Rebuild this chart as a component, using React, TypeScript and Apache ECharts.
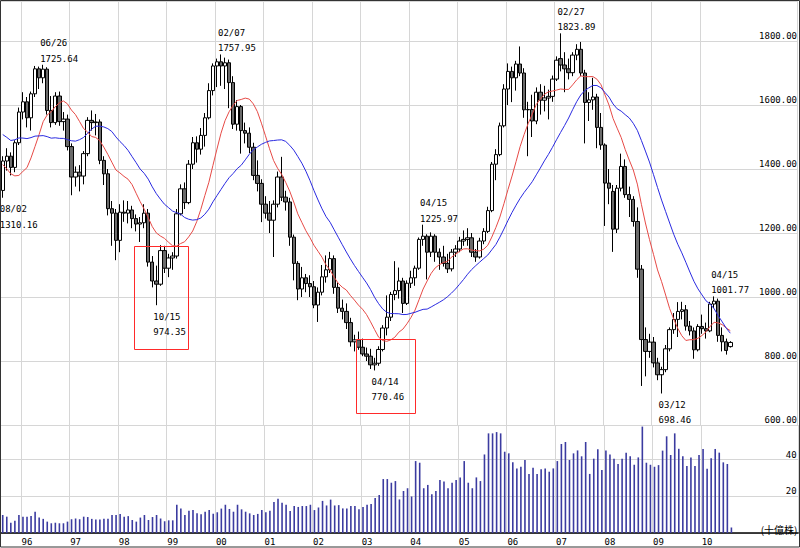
import React, { useEffect, useRef } from 'react';
import * as echarts from 'echarts';

// ---------- DATA ----------
const START_YEAR = 1995;
const START_MONTH = 8; // first candle: Aug 1995
const TOTAL_SLOTS = 197; // months shown on the axis (Aug 1995 .. Dec 2011)
const LAST_LABEL_YEAR = 2010;

// monthly closes before the first candle (Aug 1993 .. Jul 1995), used only for the moving averages
const preCloses = [
  1640, 1650, 1640, 1430, 1439,
  1620, 1600, 1560, 1600, 1670, 1690, 1660, 1660, 1600, 1590, 1560, 1560,
  1460, 1420, 1270, 1280, 1240, 1230, 1330,
];

// [open, close, low, high]
const ohlc: [number, number, number, number][] = [
  // 1995 Aug-Dec
  [1333, 1425, 1310.16, 1440], [1425, 1440, 1395, 1465], [1440, 1405, 1380, 1452], [1405, 1482, 1390, 1490], [1482, 1578, 1475, 1592],
  // 1996
  [1578, 1610, 1555, 1640], [1610, 1560, 1530, 1625], [1560, 1635, 1520, 1642], [1635, 1713, 1625, 1722], [1713, 1685, 1650, 1720], [1685, 1712, 1668, 1725.64],
  [1712, 1583, 1570, 1718], [1583, 1545, 1530, 1628], [1545, 1628, 1538, 1640], [1628, 1548, 1535, 1642], [1548, 1556, 1520, 1578], [1556, 1470, 1458, 1570],
  // 1997
  [1470, 1375, 1318, 1480], [1375, 1390, 1345, 1408], [1390, 1378, 1330, 1412], [1378, 1448, 1352, 1456], [1448, 1552, 1440, 1562], [1552, 1545, 1520, 1583],
  [1545, 1547, 1505, 1572], [1547, 1427, 1415, 1555], [1427, 1385, 1350, 1440], [1385, 1276, 1255, 1400], [1276, 1262, 1160, 1300], [1262, 1177, 1115, 1275],
  // 1998
  [1177, 1265, 1140, 1290], [1265, 1262, 1235, 1302], [1262, 1272, 1230, 1300], [1272, 1245, 1215, 1285], [1245, 1228, 1205, 1258], [1228, 1232, 1172, 1250],
  [1232, 1262, 1215, 1290], [1262, 1109, 1095, 1275], [1109, 1050, 1030, 1128], [1050, 1040, 974.35, 1098], [1040, 1145, 1035, 1162], [1145, 1090, 1075, 1160],
  // 1999
  [1090, 1122, 1062, 1135], [1122, 1128, 1085, 1140], [1128, 1260, 1120, 1275], [1260, 1338, 1255, 1352], [1338, 1295, 1275, 1358], [1295, 1415, 1290, 1428],
  [1415, 1482, 1400, 1500], [1482, 1462, 1420, 1502], [1462, 1505, 1445, 1528], [1505, 1560, 1470, 1575], [1560, 1645, 1555, 1668], [1645, 1722, 1630, 1730],
  // 2000
  [1722, 1735, 1656, 1745], [1735, 1722, 1660, 1757.95], [1722, 1732, 1650, 1748], [1732, 1670, 1590, 1742], [1670, 1540, 1525, 1690], [1540, 1595, 1520, 1615],
  [1595, 1520, 1448, 1600], [1520, 1512, 1480, 1545], [1512, 1468, 1450, 1530], [1468, 1380, 1365, 1482], [1380, 1355, 1330, 1427], [1355, 1290, 1234, 1368],
  // 2001
  [1290, 1262, 1245, 1315], [1262, 1240, 1200, 1300], [1240, 1290, 1125, 1302], [1290, 1375, 1280, 1392], [1375, 1312, 1300, 1438], [1312, 1297, 1270, 1332],
  [1297, 1187, 1160, 1310], [1187, 1105, 1052, 1195], [1105, 1025, 990, 1112], [1025, 1060, 1000, 1094], [1060, 1042, 1015, 1072], [1042, 1032, 1000, 1068],
  // 2002
  [1032, 975, 965, 1050], [975, 1015, 922, 1030], [1015, 1063, 1005, 1100], [1063, 1085, 1045, 1130], [1085, 1120, 1075, 1141], [1120, 1030, 1010, 1130],
  [1030, 965, 950, 1045], [965, 955, 930, 992], [955, 920, 900, 980], [920, 860, 845, 935], [860, 866, 830, 882], [866, 843, 835, 892],
  // 2003
  [843, 822, 815, 870], [822, 815, 800, 842], [815, 788, 775, 838], [788, 793, 770.46, 810], [793, 836, 785, 846], [836, 903, 830, 912],
  [903, 937, 880, 1005], [937, 1008, 925, 1016], [1008, 1020, 990, 1112], [1020, 1050, 995, 1092], [1050, 980, 950, 1060], [980, 1043, 975, 1052],
  // 2004
  [1043, 1060, 1028, 1082], [1060, 1090, 1035, 1098], [1090, 1180, 1085, 1186], [1180, 1190, 1160, 1225.97], [1190, 1140, 1055, 1196], [1140, 1190, 1125, 1202],
  [1190, 1140, 1110, 1196], [1140, 1125, 1085, 1152], [1125, 1105, 1095, 1160], [1105, 1088, 1075, 1135], [1088, 1140, 1080, 1150], [1140, 1150, 1125, 1162],
  // 2005
  [1150, 1175, 1140, 1188], [1175, 1180, 1160, 1208], [1180, 1185, 1160, 1215], [1185, 1140, 1125, 1200], [1140, 1125, 1110, 1150], [1125, 1175, 1120, 1185],
  [1175, 1205, 1165, 1215], [1205, 1270, 1200, 1282], [1270, 1415, 1265, 1422], [1415, 1445, 1365, 1462], [1445, 1535, 1440, 1545], [1535, 1650, 1530, 1665],
  // 2006
  [1650, 1705, 1600, 1730], [1705, 1685, 1609, 1720], [1685, 1728, 1645, 1738], [1728, 1700, 1690, 1783], [1700, 1585, 1560, 1715], [1585, 1586, 1440, 1610],
  [1586, 1550, 1500, 1632], [1550, 1640, 1540, 1655], [1640, 1615, 1570, 1665], [1615, 1622, 1580, 1660], [1622, 1627, 1555, 1648], [1627, 1681, 1610, 1692],
  // 2007
  [1681, 1740, 1675, 1752], [1745, 1725, 1705, 1823.89], [1725, 1713, 1640, 1765], [1713, 1701, 1680, 1745], [1701, 1756, 1690, 1765], [1756, 1774, 1740, 1790],
  [1774, 1700, 1690, 1797], [1700, 1608, 1480, 1710], [1608, 1616, 1550, 1640], [1616, 1625, 1585, 1685], [1625, 1530, 1465, 1635], [1530, 1475, 1460, 1575],
  // 2008
  [1475, 1356, 1222, 1480], [1356, 1340, 1290, 1400], [1330, 1212, 1141, 1350], [1212, 1340, 1200, 1350], [1340, 1408, 1330, 1448], [1408, 1320, 1310, 1430],
  [1320, 1305, 1250, 1345], [1305, 1236, 1220, 1315], [1236, 1087, 1060, 1280], [1087, 867, 722, 1100], [867, 830, 752, 905], [830, 859, 810, 885],
  // 2009
  [859, 794, 780, 875], [794, 757, 740, 810], [757, 773, 698.46, 782], [773, 838, 765, 850], [838, 898, 830, 905], [898, 930, 885, 950],
  [930, 955, 875, 984], [955, 960, 930, 985], [960, 909, 895, 975], [909, 894, 880, 925], [894, 835, 807, 905], [835, 908, 830, 915],
  // 2010 Jan-Aug
  [908, 901, 885, 945], [901, 894, 870, 920], [894, 978, 890, 985], [978, 987, 965, 1001.77], [987, 880, 860, 995], [880, 860, 830, 905],
  [860, 833, 820, 870], [845, 858, 842, 862],
];

// monthly volume (billion shares)
const volume = [
  9.8, 8.9, 5.6, 6.7, 9.8, 8.9, 8.9, 9.2, 11.6, 8.4,
  7.7, 6.2, 5.3, 5.6, 5.3, 5.3, 6.2, 7.5, 7.9, 7.5,
  8.9, 8.7, 7.7, 7.3, 7.3, 7.7, 7.7, 9.8, 9.8, 10.4,
  8.9, 9.2, 7.1, 6.2, 8.4, 9.8, 7.1, 8.7, 9.8, 7.9,
  6.4, 6.9, 6.9, 15.4, 13.4, 9.8, 12.1, 12.5, 10.7, 10.2,
  11.6, 12.5, 10.5, 11.3, 13.3, 15.4, 13.1, 11.6, 15.4, 12.9,
  11.6, 10.7, 9.8, 10.4, 12.5, 11.3, 12.1, 16.9, 18.6, 16.5,
  15.4, 12, 14.7, 14.2, 14.7, 14.7, 15.4, 12.5, 13.9, 17.5,
  15, 18.2, 15, 15.2, 13.4, 13.4, 14.7, 14.7, 12.9, 14.2,
  15.4, 15.8, 19.1, 20.7, 29.4, 29.4, 27.4, 28.3,
  18.3, 22.9, 24.4, 19.9, 39.2, 38.3, 24.4, 26.2, 21.1, 22.9,
  28.9, 28, 24.4, 27.4, 28.9, 30.3, 39.2, 27.4, 24.4, 30.3,
  28.3, 42.8, 54.3, 54.3, 55, 54.3, 44.3, 43.4, 38.5, 35.2,
  36.1, 39.8, 32.2, 35.6, 32.2, 34.7, 35.2, 33.4, 35.2, 39.2,
  48.5, 49.6, 39.8, 43.4, 45, 41.8, 49.6, 32.2, 40.5, 45.6,
  34.3, 44.9, 42.8, 40.5, 37.6, 40.5, 43.8, 41.8, 37.2, 41.2,
  58, 38.3, 37.2, 36.1, 37, 44.9, 52.7, 42.5, 54.3, 45.9,
  41.8, 36.5, 41.2, 36.5, 42.5, 45.8, 35, 40.7, 45.8, 43.8,
  38.5, 37.6, 3,
];

// annotated highs / lows: candle index, date label, which extreme
const notes: { m: number; date: string; kind: 'high' | 'low' }[] = [
  { m: 0, date: '08/02', kind: 'low' },
  { m: 10, date: '06/26', kind: 'high' },
  { m: 38, date: '10/15', kind: 'low' },
  { m: 54, date: '02/07', kind: 'high' },
  { m: 92, date: '04/14', kind: 'low' },
  { m: 104, date: '04/15', kind: 'high' },
  { m: 138, date: '02/27', kind: 'high' },
  { m: 163, date: '03/12', kind: 'low' },
  { m: 176, date: '04/15', kind: 'high' },
];

const MA_SHORT = 12;
const MA_LONG = 24;
const VOLUME_UNIT = '(十億株)';

// ---------- helpers ----------
const months: string[] = [];
for (let i = 0; i < TOTAL_SLOTS; i++) {
  const t = START_MONTH - 1 + i;
  const y = START_YEAR + Math.floor(t / 12);
  const mo = (t % 12) + 1;
  months.push(`${y}-${String(mo).padStart(2, '0')}`);
}
const yearOf = (i: number) => Number(months[i].slice(0, 4));
const monthOf = (i: number) => Number(months[i].slice(5, 7));
const isJan = (i: number) => monthOf(i) === 1 && yearOf(i) <= LAST_LABEL_YEAR;
const isFeb = (i: number) => monthOf(i) === 2 && yearOf(i) <= LAST_LABEL_YEAR;

function movingAverage(period: number) {
  const all = preCloses.concat(ohlc.map((d) => d[1]));
  const off = preCloses.length;
  return ohlc.map((_, i) => {
    const end = off + i;
    const start = end - period + 1;
    if (start < 0) return null;
    let s = 0;
    for (let k = start; k <= end; k++) s += all[k];
    return +(s / period).toFixed(2);
  });
}

const MONO = '"DejaVu Sans Mono", monospace';
const GRID_COLOR = '#d6d6d6';
const BOX_RED = '#ff2a2a';

export default function App() {
  const ref = useRef<HTMLDivElement>(null);

  useEffect(() => {
    if (!ref.current) return;
    const chart = echarts.init(ref.current, null, { renderer: 'svg' });
    const option: any = {
      animation: false,
      backgroundColor: '#ffffff',
      grid: [
        { left: 0.7, top: 1, width: 797.5, height: 424 },
        { left: 0.7, top: 425, width: 797.5, height: 108 },
      ],
      xAxis: [
        {
          type: 'category', gridIndex: 0, data: months, boundaryGap: true,
          axisLine: { show: false }, axisTick: { show: false }, axisLabel: { show: false },
          splitLine: { show: true, interval: (i: number) => isJan(i), lineStyle: { color: GRID_COLOR, width: 1 } },
        },
        {
          type: 'category', gridIndex: 1, data: months, boundaryGap: true,
          axisLine: { show: true, lineStyle: { color: '#000', width: 1.5 } },
          axisTick: { show: false },
          axisLabel: {
            interval: (i: number) => isFeb(i),
            formatter: (v: string) => v.slice(2, 4),
            fontFamily: MONO, fontSize: 9, color: '#000', margin: 4, hideOverlap: false,
          },
          splitLine: { show: true, interval: (i: number) => isJan(i), lineStyle: { color: GRID_COLOR, width: 1 } },
        },
      ],
      yAxis: [
        {
          type: 'value', gridIndex: 0, position: 'right', min: 600, max: 1925, interval: 200,
          axisLine: { show: false }, axisTick: { show: false },
          axisLabel: {
            inside: true, margin: 0, showMaxLabel: false,
            formatter: (v: number) => v.toFixed(2),
            fontFamily: MONO, fontSize: 9, color: '#000', verticalAlign: 'bottom', lineHeight: 10,
          },
          splitLine: { show: true, lineStyle: { color: GRID_COLOR, width: 1 } },
        },
        {
          type: 'value', gridIndex: 1, position: 'right', min: 0, max: 58.86, interval: 20,
          axisLine: { show: false }, axisTick: { show: false },
          axisLabel: {
            inside: true, margin: 1.5, showMaxLabel: false, showMinLabel: false,
            formatter: (v: number) => String(v),
            fontFamily: MONO, fontSize: 9, color: '#000', verticalAlign: 'bottom', lineHeight: 10,
          },
          splitLine: { show: true, lineStyle: { color: GRID_COLOR, width: 1 } },
        },
      ],
      series: [
        {
          name: 'price', type: 'candlestick', xAxisIndex: 0, yAxisIndex: 0, data: ohlc, barWidth: 3.9, z: 3,
          itemStyle: { color: '#ffffff', color0: '#6a6a6a', borderColor: '#000', borderColor0: '#000', borderWidth: 1 },
        },
        {
          name: `MA${MA_SHORT}`, type: 'line', xAxisIndex: 0, yAxisIndex: 0, data: movingAverage(MA_SHORT),
          symbol: 'none', z: 5, lineStyle: { color: '#e64a46', width: 1 },
        },
        {
          name: `MA${MA_LONG}`, type: 'line', xAxisIndex: 0, yAxisIndex: 0, data: movingAverage(MA_LONG),
          symbol: 'none', z: 5, lineStyle: { color: '#2a2ae0', width: 1 },
        },
        {
          name: 'volume', type: 'bar', xAxisIndex: 1, yAxisIndex: 1, data: volume, barWidth: 1.6,
          itemStyle: { color: '#3b3ba0' },
        },
      ],
    };
    chart.setOption(option);

    const textStyle = (text: string, x: number, y: number) => ({
      type: 'text', silent: true, z: 100, x, y,
      style: {
        text, fill: '#000', font: `9px ${MONO}`,
        align: 'left', verticalAlign: 'middle', textAlign: 'left', textVerticalAlign: 'middle',
      },
    });

    const graphics: any[] = [];
    notes.forEach((n) => {
      const d = ohlc[n.m];
      const val = n.kind === 'high' ? d[3] : d[2];
      const [px, py] = chart.convertToPixel({ gridIndex: 0 }, [n.m, val]) as number[];
      const x = px - 3;
      if (n.kind === 'high') {
        graphics.push(textStyle(n.date, x, py - 21.5));
        graphics.push(textStyle(val.toFixed(2), x, py - 6));
      } else {
        graphics.push(textStyle(n.date, x, py + 11.5));
        graphics.push(textStyle(val.toFixed(2), x, py + 27));
      }
    });
    // red highlight boxes around the two major lows
    graphics.push({
      type: 'rect', silent: true, z: 90,
      shape: { x: 134.5, y: 246.5, width: 54, height: 103 },
      style: { fill: 'transparent', stroke: BOX_RED, lineWidth: 1 },
    });
    graphics.push({
      type: 'rect', silent: true, z: 90,
      shape: { x: 356.5, y: 339.5, width: 59, height: 74 },
      style: { fill: 'transparent', stroke: BOX_RED, lineWidth: 1 },
    });
    // volume unit
    graphics.push({
      type: 'text', silent: true, z: 100, x: 797.5, y: 529,
      style: {
        text: VOLUME_UNIT, fill: '#000', font: '10px "Noto Sans CJK JP"',
        align: 'right', verticalAlign: 'middle', textAlign: 'right', textVerticalAlign: 'middle',
      },
    });
    // outer frame
    graphics.push({
      type: 'rect', silent: true, z: 110,
      shape: { x: 0.5, y: 0.5, width: 799, height: 546.5 },
      style: { fill: 'transparent', stroke: '#333', lineWidth: 1 },
    });
    chart.setOption({ graphic: graphics });

    return () => chart.dispose();
  }, []);

  return <div ref={ref} style={{ position: 'fixed', left: 0, top: 0, width: 800, height: 548 }} />;
}
